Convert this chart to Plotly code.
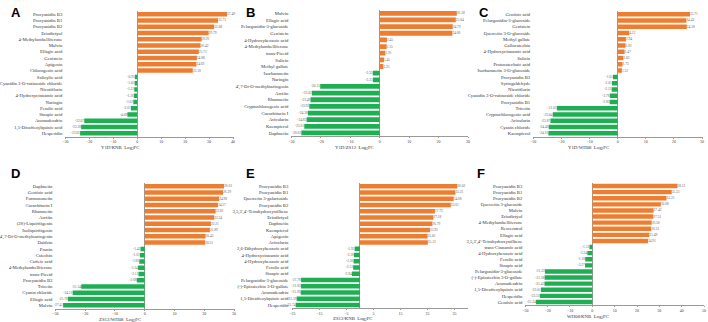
import plotly.graph_objects as go

W, H = 708, 322

A_names = ["Procyanidin B3", "Procyanidin B1", "Procyanidin B2", "Eriodictyol", "4-Methylumbelliferone",
           "Malvin", "Ellagic acid", "Genistein", "Apigenin", "Chlorogenic acid", "Salicylic acid",
           "Cyanidin 3-O-rutinoside chloride", "Nicotiflorin", "4-Hydroxycinnamic acid", "Naringin",
           "Ferulic acid", "Sinapic acid", "Aromadendrin", "1,5-Dicaffeoylquinic acid", "Hesperidin"]
A_vals = [37.49, 33.71, 32.08, 29.79, 26.91, 26.42, 25.71, 24.88, 24.69, 23.18, -0.95,
          -1.03, -1.21, -1.36, -1.62, -2.61, -4.09, -22.07, -23.38, -23.82]

B_names = ["Malvin", "Ellagic acid", "Pelargonidin-3-glucoside", "Genistein", "4-Hydroxybenzoic acid",
           "4-Methylumbelliferone", "trans-Piceid", "Salicin", "Methyl gallate", "Isorhamnetin", "Naringin",
           "4',7-Di-O-methylnaringenin", "Arctiin", "Rhamnetin", "Cryptochlorogenic acid", "Cucurbitacin I",
           "Avicularin", "Kaempferol", "Daphnetin"]
B_vals = [26.18, 25.84, 24.79, 24.68, 2.45, 2.35, 1.91, 1.45, 1.25, -2.35, -2.31,
          -20.21, -23.02, -23.49, -23.92, -24.38, -24.83, -25.61, -26.62]

C_names = ["Gentisic acid", "Pelargonidin-3-glucoside", "Genistein", "Quercetin 3-O-glucoside",
           "Methyl gallate", "Gallocatechin", "4-Hydroxycinnamic acid", "Salicin", "Protocatechuic acid",
           "Isorhamnetin 3-O-glucoside", "Procyanidin B3", "Syringaldehyde", "Nicotiflorin",
           "Cyanidin 3-O-rutinoside chloride", "Procyanidin B1", "Tricetin", "Cryptochlorogenic acid",
           "Avicularin", "Cyanin chloride", "Kaempferol"]
C_vals = [25.71, 24.42, 24.58, 4.12, 2.94, 2.81, 2.47, 2.02, 1.75, 1.52, -1.65, -2.01, -2.12,
          -2.78, -2.83, -21.62, -23.04, -23.87, -24.49, -24.61]

D_names = ["Daphnetin", "Gentisic acid", "Formononetin", "Cucurbitacin I", "Rhamnetin", "Arctiin",
           "(2S)-Liquiritigenin", "Isoliquiritigenin", "4',7-Di-O-methylnaringenin", "Daidzin", "Prunin",
           "Catechin", "Caffeic acid", "4-Methylumbelliferone", "trans-Piceid", "Procyanidin B3",
           "Tricetin", "Cyanin chloride", "Ellagic acid", "Malvin"]
D_vals = [26.63, 26.29, 24.98, 24.57, 23.81, 23.34, 22.21, 21.89, 20.43, 20.31, -1.42, -1.61,
          -1.83, -2.24, -2.11, -2.68, -21.34, -24.21, -25.78, -27.41]

E_names = ["Procyanidin B3", "Procyanidin B1", "Quercetin 3-galactoside", "Procyanidin B2",
           "3,5,3',4'-Tetrahydroxystilbene", "Eriodictyol", "Daphnetin", "Kaempferol", "Apigenin",
           "Avicularin", "2,6-Dihydroxybenzoic acid", "4-Hydroxycinnamic acid", "4-Hydroxybenzoic acid",
           "Ferulic acid", "Sinapic acid", "Pelargonidin-3-glucoside", "(-)-Epicatechin 3-O-gallate",
           "Aromadendrin", "1,5-Dicaffeoylquinic acid", "Hesperidin"]
E_vals = [36.02, 35.31, 34.68, 33.61, 27.72, 27.18, 26.79, 25.92, 25.01, 25.12, -1.93, -2.18,
          -2.36, -2.51, -2.94, -21.78, -21.83, -21.92, -23.39, -23.74]

F_names = ["Procyanidin B3", "Procyanidin B1", "Procyanidin B2", "Quercetin 3-glucoside", "Malvin",
           "Eriodictyol", "4-Methylumbelliferone", "Resveratrol", "Ellagic acid",
           "3,5,3',4'-Tetrahydroxystilbene", "trans-Cinnamic acid", "4-Hydroxybenzoic acid", "Ferulic acid",
           "Sinapic acid", "Pelargonidin-3-glucoside", "(-)-Epicatechin 3-O-gallate", "Aromadendrin",
           "1,5-Dicaffeoylquinic acid", "Hesperidin", "Gentisic acid"]
F_vals = [38.12, 35.53, 33.21, 30.68, 27.42, 27.31, 26.58, 26.33, 25.49, 24.91, -1.31, -2.24,
          -3.18, -3.27, -21.22, -21.38, -21.43, -23.01, -23.52, -25.24]

titles = ["Y1D/KNB", "Y1D/ZS12", "Y1D/WH08", "ZS12/WH08", "ZS12/KNB", "WH08/KNB"]
letters = ["A", "B", "C", "D", "E", "F"]

ORANGE = "#ED7D31"
GREEN = "#1DAF52"
SERIF = "Liberation Serif, Times New Roman, serif"

# layout geometry in pixels: (x0, x1, y0_top, y1_bottom), x range, tick0, title x, title y, letter pos, standoff
panels = [
    (A_names, A_vals, (59, 229, 11, 136.5), [-30, 40], -30, 114, 147.5, (2, 3), 2),
    (B_names, B_vals, (288, 467, 10, 136.3), [-30, 30], -30, 352, 147.5, (240, 3), 2),
    (C_names, C_vals, (533, 704, 11, 136.5), [-30, 30], -30, 589, 147.5, (476, 3), 2),
    (D_names, D_vals, (49, 230, 183, 308.5), [-30, 30], -30, 114, 319.6, (2, 164), 2),
    (E_names, E_vals, (289, 467, 183, 308), [-25, 40], -25, 350, 319.4, (240, 164), 3),
    (F_names, F_vals, (525, 706, 183, 305), [-30, 50], -30, 588, 316.5, (474, 164), 2),
]

fig = go.Figure()
annotations = []
layout_axes = {}
for i, (names, vals, (x0, x1, yt, yb), xr, t0, tx, ty, (lx, ly), so) in enumerate(panels):
    k = "" if i == 0 else str(i + 1)
    colors = [ORANGE if v > 0 else GREEN for v in vals]
    fig.add_trace(go.Bar(
        y=names, x=vals, orientation="h",
        marker=dict(color=colors, line=dict(width=0)),
        texttemplate="%{x:.2f}", textposition="auto", textangle=0,
        insidetextanchor="end",
        insidetextfont=dict(size=3.5, color="#333333", family=SERIF),
        outsidetextfont=dict(size=3.5, color="#666666", family=SERIF),
        cliponaxis=False,
        xaxis="x" + k, yaxis="y" + k, showlegend=False,
        hovertemplate="%{y}: %{x:.2f}<extra></extra>",
    ))
    n = len(names)
    layout_axes["xaxis" + k] = dict(
        domain=[x0 / W, x1 / W], anchor="y" + k, range=xr, tick0=t0, dtick=10,
        showgrid=False, zeroline=True, zerolinecolor="#9a9a9a", zerolinewidth=0.6,
        showline=True, linecolor="#9a9a9a", linewidth=0.8,
        ticks="outside", ticklen=1.2, tickwidth=0.6, tickcolor="#9a9a9a",
        tickfont=dict(size=4, color="#444444", family=SERIF), fixedrange=True,
    )
    layout_axes["yaxis" + k] = dict(
        domain=[1 - yb / H, 1 - yt / H], anchor="x" + k, type="category",
        categoryorder="array", categoryarray=names, range=[n - 0.5, -0.5],
        showgrid=False, showline=False, zeroline=False, ticks="",
        ticklabelstandoff=so,
        tickfont=dict(size=4.7, color="#333333", family=SERIF), fixedrange=True,
    )
    annotations.append(dict(
        x=tx / W, y=1 - ty / H, xref="paper", yref="paper", showarrow=False,
        text=titles[i] + "  Log<sub>2</sub>FC", xanchor="center", yanchor="middle",
        font=dict(size=4.8, color="#333333", family=SERIF),
    ))
    annotations.append(dict(
        x=lx / W, y=1 - ly / H, xref="paper", yref="paper", showarrow=False,
        text="<b>" + letters[i] + "</b>", xanchor="left", yanchor="top",
        font=dict(size=13, color="#000000", family="Liberation Sans, Arial, sans-serif"),
    ))

fig.update_layout(
    width=W, height=H, margin=dict(l=0, r=0, t=0, b=0),
    paper_bgcolor="white", plot_bgcolor="white",
    bargap=0.28, annotations=annotations, **layout_axes,
)

fig.write_html("out.html", config={"displayModeBar": False},
               post_script="document.body.style.margin='0px';document.body.style.overflow='hidden';")
